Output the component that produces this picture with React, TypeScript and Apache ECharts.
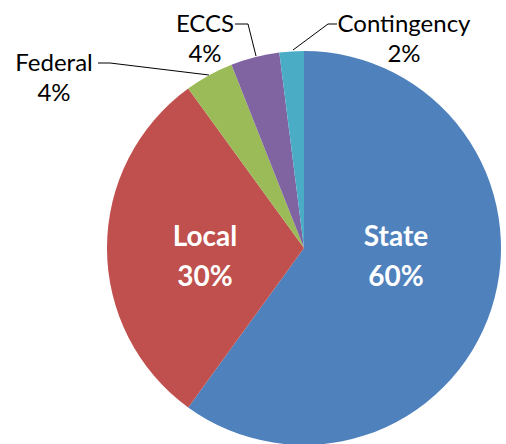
import React, { useEffect, useRef } from "react";
import * as echarts from "echarts";

const categories = ["State", "Local", "Federal", "ECCS", "Contingency"];
const values = [60, 30, 4, 4, 2];
const colors = ["#4F81BD", "#C0504D", "#9BBB59", "#8064A2", "#4BACC6"];

// label placement (layout only)
const labelPos: Record<number, { x: number; y: number; line?: number[][] }> = {
  0: { x: 396, y: 255 },
  1: { x: 205, y: 255 },
  2: { x: 54, y: 76, line: [[209, 75], [110, 63], [98, 63]] },
  3: { x: 205, y: 37, line: [[256, 56], [248, 24], [235, 24]] },
  4: { x: 404, y: 37, line: [[293, 50], [328, 24], [337, 24]] },
};

export default function App() {
  const ref = useRef<HTMLDivElement>(null);
  useEffect(() => {
    if (!ref.current) return;
    const chart = echarts.init(ref.current, undefined, { renderer: "svg" });
    const data = categories.map((name, i) => {
      const inside = i < 2;
      return {
        name,
        value: values[i],
        itemStyle: { color: colors[i] },
        label: inside
          ? {
              position: "inside",
              color: "#ffffff",
              fontSize: 28,
              fontWeight: "bold",
              lineHeight: 40,
            }
          : {
              position: "outside",
              color: "#000000",
              fontSize: 24,
              lineHeight: 30,
            },
        labelLine: { show: !inside },
      };
    });
    chart.setOption({
      animation: false,
      series: [
        {
          type: "pie",
          center: [304, 248],
          radius: 197,
          startAngle: 90,
          clockwise: true,
          avoidLabelOverlap: false,
          data,
          label: {
            fontFamily: "Lato, Liberation Sans, Arial, sans-serif",
            formatter: (p: any) => `${p.name}\n${Math.round(p.percent)}%`,
            align: "center",
          },
          labelLine: {
            lineStyle: { color: "#000000", width: 1 },
          },
          labelLayout: (params: any) => {
            const pos = labelPos[params.dataIndex];
            const out: any = {
              x: pos.x,
              y: pos.y,
              align: "center",
              verticalAlign: "middle",
            };
            if (pos.line) out.labelLinePoints = pos.line;
            return out;
          },
          itemStyle: { borderWidth: 0 },
          emphasis: { disabled: true },
        },
      ],
    });
    return () => chart.dispose();
  }, []);
  return (
    <div
      ref={ref}
      style={{ position: "fixed", left: 0, top: 0, width: 506, height: 444, background: "#fff" }}
    />
  );
}
